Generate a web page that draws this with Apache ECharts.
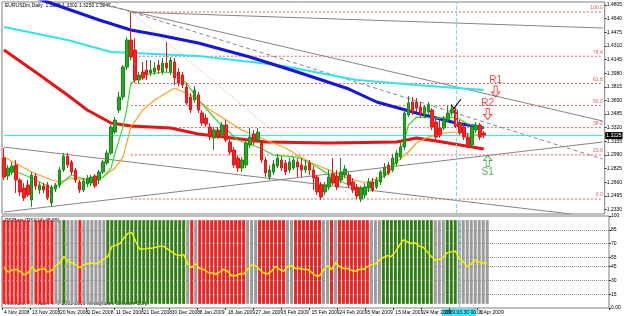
<!DOCTYPE html>
<html>
<head>
<meta charset="utf-8">
<script src="https://cdn.jsdelivr.net/npm/echarts@6.0.0/dist/echarts.min.js"></script>
<style>
html,body{margin:0;padding:0;background:#fff;}
#chart{width:625px;height:316px;}
</style>
</head>
<body>
<div id="chart"></div>
<script>
// EURUSDm daily bars, [open, close, low, high]
var candles = [
  [1.2953,1.2723,1.2687,1.3074],[1.2736,1.2832,1.2687,1.2869],[1.2784,1.2856,1.2748,1.2905],[1.2869,1.2687,1.2530,1.2929],
  [1.2687,1.2542,1.2494,1.2711],[1.2590,1.2469,1.2433,1.2651],[1.2627,1.2506,1.2481,1.2687],[1.2445,1.2748,1.2360,1.2784],
  [1.2736,1.2615,1.2566,1.2772],[1.2566,1.2627,1.2518,1.2663],[1.2615,1.2566,1.2530,1.2651],[1.2627,1.2469,1.2445,1.2663],
  [1.2409,1.2602,1.2360,1.2627],[1.2578,1.2627,1.2542,1.2651],[1.2627,1.2808,1.2590,1.2844],[1.2808,1.2977,1.2784,1.3014],
  [1.2977,1.2869,1.2832,1.3014],[1.2905,1.2784,1.2748,1.2929],[1.2808,1.2687,1.2651,1.2832],[1.2663,1.2566,1.2530,1.2687],
  [1.2566,1.2675,1.2542,1.2711],[1.2639,1.2711,1.2602,1.2748],[1.2651,1.2723,1.2615,1.2748],[1.2736,1.2615,1.2590,1.2760],
  [1.2687,1.2784,1.2639,1.2808],[1.2784,1.2905,1.2760,1.2929],[1.2893,1.3014,1.2869,1.3050],[1.3014,1.3328,1.2989,1.3353],
  [1.3268,1.3413,1.3244,1.3449],[1.3534,1.3691,1.3498,1.3752],[1.3691,1.4054,1.3655,1.4079],[1.4054,1.4381,1.4018,1.4417],
  [1.4381,1.4175,1.4139,1.4720],[1.4260,1.3897,1.3861,1.4405],[1.3897,1.3958,1.3849,1.3994],[1.3994,1.3921,1.3897,1.4115],
  [1.4018,1.3958,1.3897,1.4139],[1.3982,1.4018,1.3945,1.4139],[1.3994,1.4042,1.3958,1.4115],[1.4079,1.4018,1.3970,1.4139],
  [1.3994,1.4103,1.3958,1.4163],[1.4103,1.4042,1.3994,1.4357],[1.3994,1.4139,1.3958,1.4175],[1.4115,1.3921,1.3837,1.4163],
  [1.3994,1.3861,1.3824,1.4042],[1.3958,1.3837,1.3800,1.3994],[1.3812,1.3619,1.3595,1.3861],[1.3691,1.3534,1.3498,1.3740],
  [1.3655,1.3775,1.3619,1.3824],[1.3716,1.3534,1.3498,1.3752],[1.3498,1.3377,1.3340,1.3534],[1.3437,1.3365,1.3328,1.3486],
  [1.3328,1.3207,1.3171,1.3377],[1.3195,1.3292,1.3050,1.3328],[1.3292,1.3219,1.3183,1.3328],[1.3232,1.3353,1.3207,1.3389],
  [1.3353,1.3171,1.3147,1.3413],[1.3147,1.3026,1.2989,1.3183],[1.3050,1.2869,1.2832,1.3086],[1.2953,1.2832,1.2784,1.2989],
  [1.2832,1.2929,1.2784,1.2965],[1.2869,1.3135,1.2832,1.3171],[1.3110,1.3207,1.3074,1.3316],[1.3244,1.3147,1.3110,1.3292],
  [1.3171,1.3268,1.3135,1.3316],[1.3135,1.2929,1.2893,1.3171],[1.2929,1.2772,1.2723,1.2965],[1.2723,1.2808,1.2687,1.2869],
  [1.2784,1.2881,1.2748,1.2929],[1.2856,1.2953,1.2832,1.3002],[1.2929,1.2832,1.2796,1.2977],[1.2893,1.2784,1.2748,1.2929],
  [1.2808,1.2905,1.2772,1.2953],[1.2832,1.2929,1.2808,1.2965],[1.2905,1.2844,1.2723,1.2953],[1.2869,1.2808,1.2723,1.2953],
  [1.2808,1.2856,1.2772,1.2929],[1.2893,1.2808,1.2748,1.2929],[1.2808,1.2711,1.2566,1.2856],[1.2723,1.2542,1.2506,1.2748],
  [1.2627,1.2481,1.2445,1.2663],[1.2542,1.2627,1.2506,1.2663],[1.2602,1.2723,1.2566,1.2808],[1.2760,1.2651,1.2627,1.2953],
  [1.2736,1.2602,1.2566,1.2808],[1.2687,1.2784,1.2651,1.2953],[1.2748,1.2820,1.2711,1.2869],[1.2748,1.2627,1.2590,1.2784],
  [1.2663,1.2566,1.2530,1.2711],[1.2602,1.2494,1.2457,1.2639],[1.2457,1.2590,1.2421,1.2615],[1.2506,1.2602,1.2469,1.2651],
  [1.2590,1.2663,1.2542,1.2711],[1.2663,1.2566,1.2542,1.2711],[1.2602,1.2687,1.2578,1.2723],[1.2663,1.2784,1.2627,1.2808],
  [1.2748,1.2844,1.2711,1.2893],[1.2869,1.2772,1.2748,1.2905],[1.2808,1.2953,1.2784,1.3002],[1.2893,1.3014,1.2856,1.3050],
  [1.2965,1.3086,1.2929,1.3171],[1.3086,1.3498,1.3050,1.3534],[1.3474,1.3619,1.3449,1.3703],[1.3631,1.3510,1.3474,1.3691],
  [1.3631,1.3558,1.3510,1.3679],[1.3570,1.3486,1.3437,1.3631],[1.3474,1.3570,1.3437,1.3595],[1.3510,1.3595,1.3474,1.3631],
  [1.3534,1.3328,1.3292,1.3558],[1.3389,1.3207,1.3171,1.3437],[1.3316,1.3232,1.3195,1.3413],[1.3316,1.3413,1.3292,1.3461],
  [1.3413,1.3498,1.3389,1.3582],[1.3498,1.3546,1.3461,1.3607],[1.3534,1.3328,1.3316,1.3558],[1.3377,1.3256,1.3232,1.3413],
  [1.3328,1.3207,1.3171,1.3365],[1.3207,1.3086,1.3074,1.3256],[1.3110,1.3328,1.3086,1.3353],[1.3292,1.3353,1.3256,1.3389],
  [1.3353,1.3207,1.3171,1.3377],[1.3256,1.3232,1.3195,1.3280]
];

// moving averages, [bar, price]
var maBlue = [[0,1.5020],[11,1.4841],[24,1.4623],[32,1.4502],[39,1.4441],[49,1.4345],[62,1.4175],[74,1.3994],[87,1.3788],[94,1.3631],[104,1.3498],[109,1.3437],[114,1.3377],[121,1.3320]];
var maCyan = [[0,1.4538],[16,1.4381],[27,1.4236],[49,1.4187],[69,1.4079],[89,1.3897],[104,1.3837],[121,1.3776]];
var maRed = [[0,1.4260],[9,1.3958],[16,1.3716],[21,1.3534],[27,1.3377],[32,1.3340],[42,1.3316],[49,1.3244],[66,1.3147],[82,1.3135],[99,1.3147],[104,1.3195],[109,1.3159],[121,1.3062]];
var maOrange = [[0,1.2965],[7,1.2784],[12,1.2687],[14,1.2663],[17,1.2711],[22,1.2687],[25,1.2723],[28,1.2832],[30,1.2965],[32,1.3328],[35,1.3534],[38,1.3655],[43,1.3800],[48,1.3691],[52,1.3534],[56,1.3413],[60,1.3292],[66,1.3171],[71,1.3074],[77,1.2905],[82,1.2808],[86,1.2723],[90,1.2663],[92,1.2663],[96,1.2747],[99,1.2905],[102,1.3026],[104,1.3135],[107,1.3207],[111,1.3256],[114,1.3268],[121,1.3219]];
var maGreen = [[0,1.2796],[4,1.2772],[8,1.2687],[12,1.2590],[14,1.2627],[17,1.2748],[21,1.2687],[25,1.2723],[27,1.2832],[28,1.3014],[30,1.3328],[31,1.3558],[32,1.3861],[35,1.3958],[40,1.3994],[43,1.3982],[46,1.3861],[49,1.3655],[54,1.3389],[59,1.3171],[64,1.3086],[68,1.2989],[74,1.2965],[79,1.2844],[84,1.2687],[89,1.2590],[92,1.2602],[97,1.2772],[99,1.2929],[101,1.3171],[102,1.3353],[104,1.3449],[109,1.3437],[114,1.3449],[117,1.3365],[121,1.3328]];

// indicator panel
var rsiValues = [44,39,41,42,40,36,38,45,40,42, 43,39,41,46,49,56,51,49,47,44, 47,48,49,48,50,53,56,67,68,70,
  76,81,82,72,64,64,65,65,66,67, 67,64,61,58,57,58,48,44,48,43, 42,39,38,37,39,42,40,35,35,37,
  37,42,47,46,42,38,37,40,45,42, 40,45,46,43,43,42,42,39,35,35, 41,46,42,49,45,43,43,41,40,42,
  42,45,47,48,52,55,57,56,61,68, 74,72,70,71,67,66,61,56,52,53, 55,60,61,62,54,50,45,48,52,50, 49,49];
var rsiState = ('RRRRRRRNRRRRRNNGNNNRNNNNNNGGGGGGGGGGGGGGGGGGGGNRNRRRRRRRRRRRRNNNRRRRRRRNNRRRRRRRNNRNRRRRRRRRNNN' +
  'GGGGGGGGGGGGGNNNGGGNNNNNNNN').split('');
var rsiLevels = [15,30,45,55,70,85];
var rsiTicks = [0,15,30,45,55,70,85,100];

var priceTicks = [1.4805,1.4640,1.4475,1.4310,1.4145,1.3980,1.3815,1.3650,1.3485,1.3320,1.3155,1.2990,1.2825,1.2660,1.2495,1.2330];
var dateLabels = ['4 Nov 2008','13 Nov 2008','20 Nov 2008','2 Dec 2008','11 Dec 2008','21 Dec 2008','30 Dec 2008','8 Jan 2009',
  '18 Jan 2009','27 Jan 2009','5 Feb 2009','15 Feb 2009','24 Feb 2009','5 Mar 2009','15 Mar 2009','24 Mar 2009','','3 Apr 2009'];

var fibNames = ['0.0','23.6','38.2','50.0','61.8','76.4','100.0'];
var fibPrices = [1.2457,1.2991,1.3321,1.3588,1.3855,1.4185,1.4720];
var fibStart = 32;

// trend lines [[bar, price],[bar, price], dashed]
var trendLines = [
  [[20,1.4865],[151,1.3401],false],
  [[24,1.4841],[151,1.2941],true],
  [[32,1.4720],[151,1.4526],false],
  [[0,1.3086],[143,1.2276],false],
  [[0,1.2300],[151,1.3147],false]
];
var fibDiagonal = [[32,1.4720],[89,1.2433]];
var lastPrice = 1.3225;
var markerBar = 113.5;

var slots = 152;
var font = 'Liberation Sans, Arial, sans-serif';

var cats = [];
for (var i = 0; i < slots; i++) cats.push(String(i));

function maSeries(pts, color, width) {
  return {type:'line', xAxisIndex:0, yAxisIndex:0, data:pts, symbol:'none', silent:true, clip:true,
    lineStyle:{color:color, width:width}, z:3};
}
function segSeries(data, color, type, z) {
  return {type:'line', xAxisIndex:0, yAxisIndex:0, data:data, symbol:'circle', symbolSize:1, showSymbol:true,
    itemStyle:{color:'rgba(0,0,0,0)'}, silent:true, clip:true, animation:false,
    lineStyle:{color:color, width:1, type:type}, z:z || 2};
}

var overlays = [];
trendLines.forEach(function (t) {
  overlays.push(segSeries([t[0], t[1]], '#858585', t[2] ? [4,3] : 'solid'));
});
overlays.push(segSeries(fibDiagonal, '#e88a8a', [1,2]));
fibPrices.forEach(function (p, k) {
  overlays.push(segSeries([[fibStart, p], {value:[slots - 1, p],
    label:{show:true, formatter:fibNames[k], position:'top', align:'right', distance:1, color:'#e05a5a', fontSize:5, fontFamily:font}}],
    '#e06464', [2,2]));
});
overlays.push(segSeries([[0, lastPrice], {value:[slots - 1, lastPrice],
  label:{show:true, position:'right', distance:2, formatter:lastPrice.toFixed(4), backgroundColor:'#000', color:'#fff',
    fontSize:5, padding:[1,1], fontFamily:font}}], '#2ee6ee', 'solid'));

var stripeBase = [], stripeBars = [];
var stripeColors = {R:'#ff1c1c', G:'#2f7d14', N:'#9c9c9c'};
rsiState.forEach(function (s) {
  stripeBase.push(4.5);
  stripeBars.push({value:91, itemStyle:{color:stripeColors[s]}});
});

function labelShown(idx) { return idx % 7 === 0 && idx / 7 < dateLabels.length; }

var chart = echarts.init(document.getElementById('chart'));
chart.setOption({
  animation:false,
  backgroundColor:'#fff',
  grid:[
    {left:2, right:16, top:2, height:212, show:true, borderColor:'#808080', borderWidth:1},
    {left:2, right:16, top:216, height:92, show:true, borderColor:'#808080', borderWidth:1}
  ],
  xAxis:[
    {type:'category', gridIndex:0, data:cats, boundaryGap:true, axisLine:{show:false}, axisTick:{show:false}, axisLabel:{show:false}, splitLine:{show:false}},
    {type:'category', gridIndex:1, data:cats, boundaryGap:true, axisLine:{show:false},
      axisTick:{show:true, interval:labelShown, length:2, lineStyle:{color:'#333'}},
      axisLabel:{show:true, interval:labelShown, align:'left', margin:2, fontSize:5, color:'#000', fontFamily:font,
        formatter:function (v) { return dateLabels[Number(v) / 7] || ''; }},
      splitLine:{show:false}}
  ],
  yAxis:[
    {type:'value', gridIndex:0, position:'right', min:1.2276, max:1.4841, axisLine:{show:false},
      axisTick:{show:true, length:2, customValues:priceTicks, lineStyle:{color:'#333'}},
      axisLabel:{customValues:priceTicks, margin:2, fontSize:5, color:'#000', fontFamily:font,
        formatter:function (v) { return v.toFixed(4); }},
      splitLine:{show:false}},
    {type:'value', gridIndex:1, position:'right', min:0, max:100, axisLine:{show:false},
      axisTick:{show:true, length:2, customValues:rsiTicks, lineStyle:{color:'#333'}},
      axisLabel:{customValues:rsiTicks, margin:2, fontSize:5, color:'#000', fontFamily:font,
        formatter:function (v) { return v === 0 ? '0.00' : String(v); }},
      splitLine:{show:false}}
  ],
  series: overlays.concat([
    maSeries(maCyan, '#30e4ea', 2),
    maSeries(maBlue, '#1515e0', 3),
    maSeries(maRed, '#e61414', 3),
    {type:'candlestick', xAxisIndex:0, yAxisIndex:0, data:candles, barWidth:3, z:4,
      itemStyle:{color:'#22a822', color0:'#ff2020', borderColor:'#188a18', borderColor0:'#e01818', borderWidth:1},
      markLine:{silent:true, symbol:['none','none'], label:{show:false},
        data:[{xAxis:markerBar, lineStyle:{color:'#70e0ee', width:1, type:'dashed'}}]}},
    maSeries(maOrange, '#ffa21a', 1.2),
    maSeries(maGreen, '#35d935', 1.2),
    {type:'scatter', xAxisIndex:0, yAxisIndex:0, silent:true, z:6,
      data:[
        {value:[124,1.3758], symbol:'path://M3,0 L7,0 L7,6 L10,6 L5,11 L0,6 L3,6 Z', symbolSize:[8,11], itemStyle:{color:'rgba(0,0,0,0)', borderColor:'#ff1010', borderWidth:1}},
        {value:[122,1.3486], symbol:'path://M3,0 L7,0 L7,6 L10,6 L5,11 L0,6 L3,6 Z', symbolSize:[8,11], itemStyle:{color:'rgba(0,0,0,0)', borderColor:'#ff1010', borderWidth:1}},
        {value:[122.25,1.2917], symbol:'path://M5,0 L10,5 L7,5 L7,11 L3,11 L3,5 L0,5 Z', symbolSize:[8,11], itemStyle:{color:'rgba(0,0,0,0)', borderColor:'#2e9a2e', borderWidth:1}},
        {value:[113.5,1.3607], symbol:'path://M0,6 L3,10 L10,0 L3,9 Z', symbolSize:[10,10], itemStyle:{color:'#000', borderColor:'#000', borderWidth:1}}
      ]},
    {type:'scatter', xAxisIndex:0, yAxisIndex:0, silent:true, z:6, symbolSize:1, itemStyle:{color:'rgba(0,0,0,0)'},
      label:{show:true, position:'inside', fontSize:10, fontFamily:font, formatter:function (p) { return p.data.name; }},
      data:[
        {name:'R1', value:[124,1.3897], label:{color:'#ff1010'}},
        {name:'R2', value:[122,1.3619], label:{color:'#ff1010'}},
        {name:'S1', value:[122.25,1.2784], label:{color:'#2e9a2e'}}
      ]},
    {type:'bar', xAxisIndex:1, yAxisIndex:1, stack:'rsi', data:stripeBase, barWidth:3, silent:true, itemStyle:{color:'rgba(0,0,0,0)'}},
    {type:'bar', xAxisIndex:1, yAxisIndex:1, stack:'rsi', data:stripeBars, barWidth:3, silent:true},
    {type:'line', xAxisIndex:1, yAxisIndex:1, data:rsiValues, symbol:'none', silent:true, z:5,
      lineStyle:{color:'#f4f000', width:1.5},
      markLine:{silent:true, symbol:['none','none'], label:{show:false},
        data:rsiLevels.map(function (v) { return {yAxis:v, lineStyle:{color:'#8c8c8c', width:1, type:'dotted'}}; })
          .concat([{xAxis:markerBar, lineStyle:{color:'#70e0ee', width:1, type:'dashed'}}])}}
  ]),
  graphic:[
    {type:'text', left:5, top:3, style:{text:'EURUSDm,Daily  1.3285 1.3302 1.3250 1.3247', fontSize:5, fill:'#000', fontFamily:font}},
    {type:'text', left:5, top:218, style:{text:'RSIBars (RSI(14),45,55)', fontSize:5, fill:'#000', fontFamily:font}},
    {type:'text', left:5, top:301, style:{text:'Interbank FX Trader 4, \u00a9 2001-2009 MetaQuotes Software Corp.', fontSize:5, fill:'#000', fontFamily:font}},
    {type:'rect', left:442, top:309, shape:{width:34, height:7}, style:{fill:'#33f0ff'}},
    {type:'text', left:444, top:310, style:{text:'2009.03.30 00:00', fontSize:5, fill:'#000', fontFamily:font}}
  ]
});
</script>
</body>
</html>
